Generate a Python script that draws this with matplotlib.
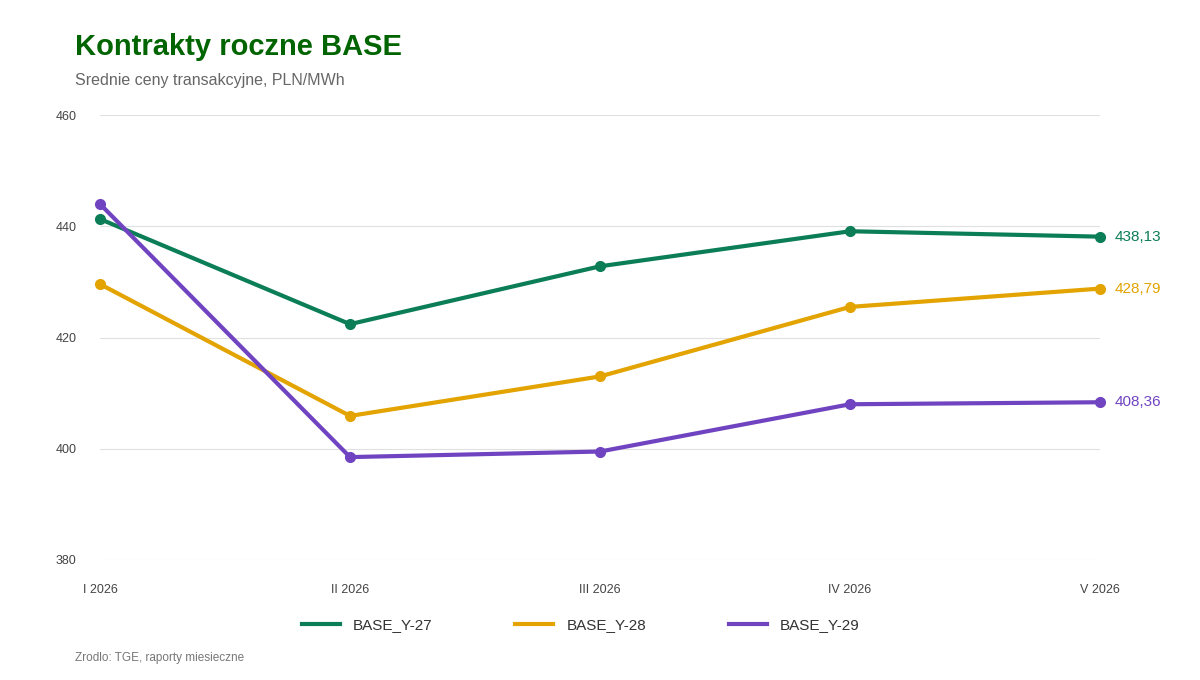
import matplotlib.pyplot as plt

plt.rcParams['font.family'] = ['Liberation Sans', 'DejaVu Sans']

months = ["I 2026", "II 2026", "III 2026", "IV 2026", "V 2026"]
y27 = [441.3, 422.4, 432.8, 439.1, 438.13]
y28 = [429.6, 405.9, 413.0, 425.5, 428.79]
y29 = [444.0, 398.5, 399.5, 408.0, 408.36]
series_names = ["BASE_Y-27", "BASE_Y-28", "BASE_Y-29"]
colors = ["#0b7d57", "#e3a300", "#7044c1"]
yticks = [380, 400, 420, 440, 460]

fig = plt.figure(figsize=(12, 6.8), dpi=100)
ax = fig.add_axes([100/1200, 1-560/680, 1000/1200, 445/680])

x = list(range(len(months)))
for vals, name, c in zip([y27, y28, y29], series_names, colors):
	ax.plot(x, vals, color=c, lw=3, marker='o', ms=7, label=name, zorder=3, clip_on=False)
	ax.text(x[-1] + 0.06, vals[-1], f"{vals[-1]:.2f}".replace(".", ","), color=c,
		fontsize=11, va='center', ha='left')

ax.set_ylim(380, 460)
ax.set_xlim(0, 4)
ax.set_yticks(yticks)
ax.set_xticks(x)
ax.set_xticklabels(months)
ax.grid(axis='y', color='#e0e0e0', lw=0.8)
for s in ax.spines.values():
	s.set_visible(False)
ax.tick_params(length=0, labelsize=9, colors='#444444')
ax.tick_params(axis='y', pad=17)
ax.tick_params(axis='x', pad=17)

fig.text(75/1200, 1-47/680, "Kontrakty roczne BASE", fontsize=21, fontweight='bold',
	color='#006400', va='center')
fig.text(75/1200, 1-81/680, "Srednie ceny transakcyjne, PLN/MWh", fontsize=11.5,
	color='#666666', va='center')
fig.text(75/1200, 1-658/680, "Zrodlo: TGE, raporty miesieczne", fontsize=8.5,
	color='#777777', va='center')

leg = fig.legend(loc='center', bbox_to_anchor=(0.484, 1-625/680), ncol=3, frameon=False,
	fontsize=11, handlelength=2.5, columnspacing=5.4, handletextpad=0.85)
for t in leg.get_texts():
	t.set_color('#333333')
for h in leg.get_lines():
	h.set_marker('')

fig.savefig("out.png", dpi=100)
